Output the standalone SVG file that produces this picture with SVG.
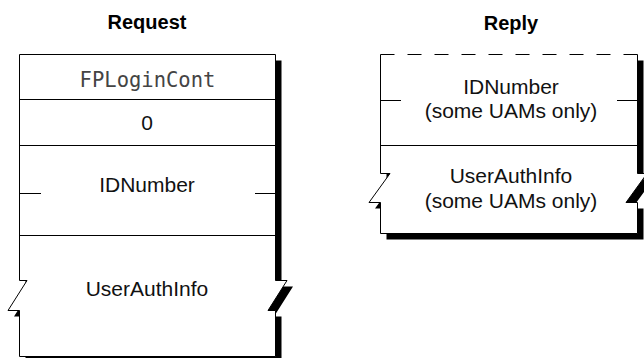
<svg xmlns="http://www.w3.org/2000/svg" width="644" height="358" viewBox="0 0 644 358">
<style>
.t{font-family:"Liberation Sans",Arial,sans-serif;font-size:21px;fill:#111;text-anchor:middle}
.h{font-family:"Liberation Sans",Arial,sans-serif;font-size:20px;font-weight:bold;fill:#000;text-anchor:middle}
.m{font-family:"DejaVu Sans Mono","Liberation Mono",monospace;font-size:20.5px;fill:#444;text-anchor:middle}
.ln{fill:none;stroke:#000;stroke-width:1}
.sh{fill:#000}
.bg{fill:#fff}
</style>
<rect width="644" height="358" fill="#fff"/>
<g id="request-title"><text class="h" x="147" y="29">Request</text></g>
<g id="reply-title"><text class="h" x="511" y="30">Reply</text></g>
<g id="request">
<path class="sh" transform="translate(6,6)" d="M19.5,54.5 H275.5 V280.5 H287 L268,310.5 H275.5 V356.5 H19.5 V310.5 H8 L27,280.5 H19.5 Z"/>
<path class="bg" d="M19.5,54.5 H275.5 V280.5 H287 L268,310.5 H275.5 V356.5 H19.5 V310.5 H8 L27,280.5 H19.5 Z"/>
<path class="ln" d="M19.5,54.5 H275.5 V280.5 H287 L268,310.5 H275.5 V356.5 H19.5 V310.5 H8 L27,280.5 H19.5 Z"/>
<g id="field-fplogincont"><text class="m" x="147.5" y="87">FPLoginCont</text></g>
<path class="ln" d="M19.5,99.5 H275.5"/>
<g id="field-zero"><text class="t" x="147" y="130">0</text></g>
<path class="ln" d="M19.5,145.5 H275.5"/>
<g id="field-idnumber">
<text class="t" x="147" y="192">IDNumber</text>
<path class="ln" d="M19.5,193.5 H41 M255,193.5 H275.5"/>
</g>
<path class="ln" d="M19.5,235.5 H275.5"/>
<g id="field-userauthinfo"><text class="t" x="147" y="296">UserAuthInfo</text></g>
</g>
<g id="reply">
<path class="sh" transform="translate(6,6)" d="M380.5,54.5 H637.5 V173.5 H647 L626,202.5 H637.5 V233.5 H380.5 V202.5 H369 L390,173.5 H380.5 Z"/>
<path class="bg" d="M380.5,54.5 H637.5 V173.5 H647 L626,202.5 H637.5 V233.5 H380.5 V202.5 H369 L390,173.5 H380.5 Z"/>
<path class="ln" d="M380.5,54.5 V173.5 H390 L369,202.5 H380.5 V233.5 H637.5 V202.5 H626 L647,173.5 H637.5 V54.5"/>
<path class="ln" stroke-dasharray="14 13" d="M380.5,54.5 H637.5"/>
<g id="reply-idnumber">
<text class="t" x="511" y="94">IDNumber</text>
<text class="t" x="511" y="118">(some UAMs only)</text>
<path class="ln" d="M380.5,100.5 H401 M617,100.5 H637.5"/>
</g>
<path class="ln" d="M380.5,145.5 H637.5"/>
<g id="reply-userauthinfo">
<text class="t" x="511" y="183">UserAuthInfo</text>
<text class="t" x="511" y="208">(some UAMs only)</text>
</g>
</g>
<g id="connectors"/>
</svg>
